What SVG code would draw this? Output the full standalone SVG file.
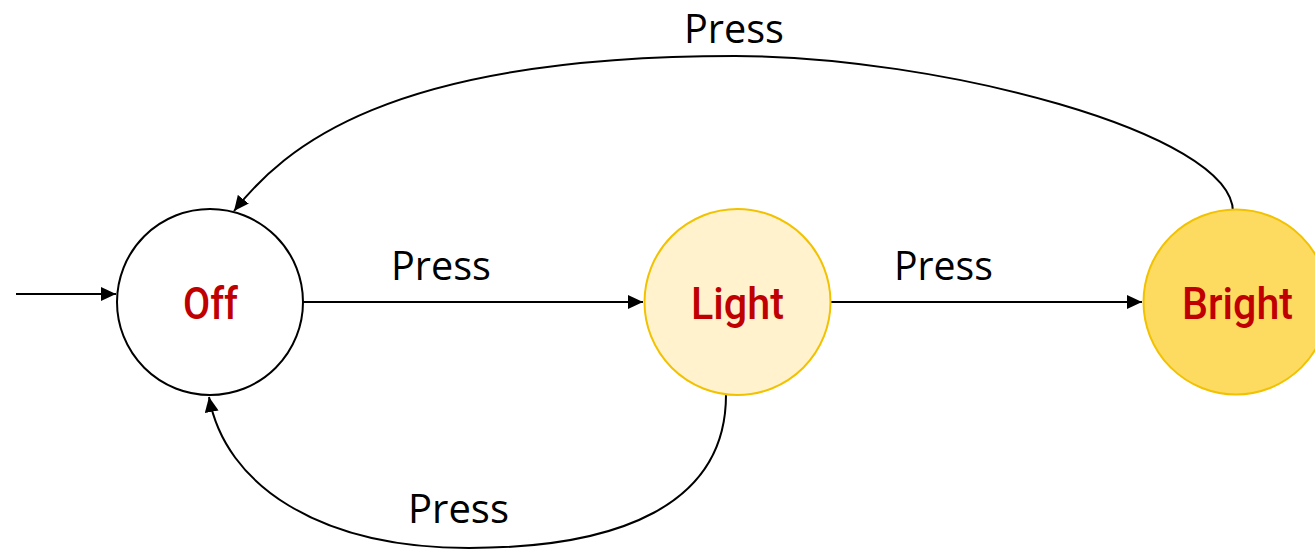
<svg xmlns="http://www.w3.org/2000/svg" width="1315" height="550" viewBox="0 0 1315 550">
  <style>
    .edge { fill: none; stroke: #000; stroke-width: 2; marker-end: url(#arrow); }
    .lbl { font-family: "Open Sans", "Noto Sans", "Liberation Sans", sans-serif; font-size: 41px; fill: #000; }
    .state { font-family: Roboto, "Liberation Sans", sans-serif; font-weight: 500; font-size: 45px; fill: #C00000; text-anchor: middle; }
  </style>
  <defs>
    <marker id="arrow" markerUnits="userSpaceOnUse" markerWidth="16" markerHeight="14" refX="15" refY="7" orient="auto">
      <path d="M0,0 L15,7 L0,14 Z" fill="#000"/>
    </marker>
  </defs>
  <rect width="1315" height="550" fill="#fff"/>
  <g id="connectors">
    <path class="edge" d="M16,294 L116,294"/>
    <path class="edge" d="M303,302 L643,302"/>
    <path class="edge" d="M831,302 L1142,302"/>
    <path class="edge" d="M1233,212 C1233,132 935,56 735,56 C385,56 283.6,148.6 234,211"/>
    <path class="edge" d="M726,395 C726,505 619,548 469,548 C319,548 225,485 209,397"/>
  </g>
  <g id="labels">
    <text class="lbl" x="391" y="280" textLength="100" lengthAdjust="spacingAndGlyphs">Press</text>
    <text class="lbl" x="894" y="280" textLength="99" lengthAdjust="spacingAndGlyphs">Press</text>
    <text class="lbl" x="684" y="43" font-size="40" textLength="100" lengthAdjust="spacingAndGlyphs">Press</text>
    <text class="lbl" x="408" y="523" textLength="101" lengthAdjust="spacingAndGlyphs">Press</text>
  </g>
  <g id="node-off">
    <circle cx="210" cy="302" r="93" fill="#fff" stroke="#000" stroke-width="2"/>
    <text class="state" x="210.5" y="319" textLength="55" lengthAdjust="spacingAndGlyphs">Off</text>
  </g>
  <g id="node-light">
    <circle cx="737.5" cy="302" r="93" fill="#FFF2CC" stroke="#F2C200" stroke-width="2"/>
    <text class="state" x="737.5" y="319" textLength="93" lengthAdjust="spacingAndGlyphs">Light</text>
  </g>
  <g id="node-bright">
    <circle cx="1236" cy="302" r="92.5" fill="#FCDB60" stroke="#F2C200" stroke-width="2"/>
    <text class="state" x="1237.5" y="319" textLength="111" lengthAdjust="spacingAndGlyphs">Bright</text>
  </g>
</svg>
